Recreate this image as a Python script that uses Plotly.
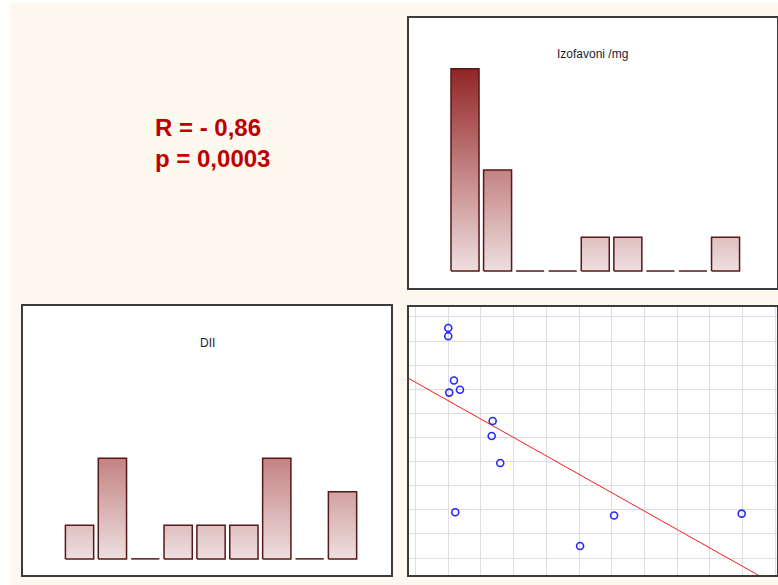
import numpy as np
import plotly.graph_objects as go

# histogram counts, 9 bins each
izo_counts = [6, 3, 0, 0, 1, 1, 0, 0, 1]
dii_counts = [1, 3, 0, 1, 1, 1, 3, 0, 2]

# scatter: izoflavones (mg) vs DII
izo_mg = [0, 0, 0.87, 0.15, 1.79, 6.79, 6.64, 7.95, 1.07, 25.35, 20.15, 44.85]
dii = [2.27, 2.1, 1.18, 0.93, 0.99, 0.34, 0.03, -0.53, -1.55, -1.62, -2.25, -1.58]

r_text = "R = - 0,86"
p_text = "p = 0,0003"
izo_title = "Izofavoni /mg"
dii_title = "DII"

W, H = 778, 585


def fx(x):
    return x / W


def fy(y):
    return 1 - y / H


fig = go.Figure()

bar_scale = [[0, "#eedfdf"], [0.5, "#c38282"], [1, "#922525"]]
half = 0.43


def add_hist(counts, xa, ya):
    bx, by, zx, zy = [], [], [], []
    for i, c in enumerate(counts):
        if c > 0:
            bx += [i - half, i - half, i + half, i + half, i - half, None]
            by += [0, c, c, 0, 0, None]
        else:
            zx += [i - half, i + half, None]
            zy += [0, 0, None]
    fig.add_trace(go.Scatter(
        x=bx, y=by, xaxis=xa, yaxis=ya, mode="lines", fill="toself",
        fillgradient=dict(type="vertical", colorscale=bar_scale, start=0, stop=6),
        line=dict(color="#561818", width=1.5), hoverinfo="skip"))
    fig.add_trace(go.Scatter(
        x=zx, y=zy, xaxis=xa, yaxis=ya, mode="lines",
        line=dict(color="#561818", width=1.5), hoverinfo="skip"))


add_hist(izo_counts, "x2", "y2")
add_hist(dii_counts, "x3", "y3")

# scatter + linear fit
x_range = [-6, 50.25]
m, c = np.polyfit(izo_mg, dii, 1)
fit_x = np.array(x_range)
fig.add_trace(go.Scatter(
    x=fit_x, y=m * fit_x + c, mode="lines",
    line=dict(color="#ff1a1a", width=1), hoverinfo="skip"))
fig.add_trace(go.Scatter(
    x=izo_mg, y=dii, mode="markers",
    marker=dict(symbol="circle-open", size=7, color="#2626ff", line=dict(width=1.6))))

box = dict(showline=True, mirror=True, linecolor="#3c3c3c", linewidth=1.5,
           showticklabels=False, ticks="", zeroline=False)

fig.update_layout(
    width=W, height=H, margin=dict(l=0, r=0, t=0, b=0),
    paper_bgcolor="#fef9ee", plot_bgcolor="white", showlegend=False,
    xaxis=dict(domain=[fx(409), fx(777)], range=x_range, showgrid=True,
               gridcolor="#dedede", gridwidth=1.4, tick0=0, dtick=5, anchor="y", **box),
    yaxis=dict(domain=[fy(575), fy(307)], range=[-2.8525, 2.705], showgrid=True,
               gridcolor="#dedede", gridwidth=1.4, tick0=0, dtick=0.5, anchor="x", **box),
    xaxis2=dict(domain=[fx(409), fx(777)], range=[-1.72, 9.58], showgrid=False,
                anchor="y2", **box),
    yaxis2=dict(domain=[fy(288), fy(18)], range=[-0.504, 7.51], showgrid=False,
                anchor="x2", **box),
    xaxis3=dict(domain=[fx(23), fx(391)], range=[-1.72, 9.475], showgrid=False,
                anchor="y3", **box),
    yaxis3=dict(domain=[fy(575), fy(306)], range=[-0.48, 7.53], showgrid=False,
                anchor="x3", **box),
    shapes=[
        dict(type="rect", xref="paper", yref="paper", x0=0, x1=fx(10), y0=0, y1=1,
             fillcolor="white", line_width=0, layer="below"),
        dict(type="rect", xref="paper", yref="paper", x0=0, x1=1, y0=fy(3), y1=1,
             fillcolor="white", line_width=0, layer="below"),
    ],
    annotations=[
        dict(text=r_text, x=fx(153), y=fy(127), xref="paper", yref="paper",
             xanchor="left", yanchor="middle", showarrow=False,
             font=dict(family="Liberation Sans", size=24, color="#c00000", weight="bold")),
        dict(text=p_text, x=fx(153), y=fy(159), xref="paper", yref="paper",
             xanchor="left", yanchor="middle", showarrow=False,
             font=dict(family="Liberation Sans", size=24, color="#c00000", weight="bold")),
        dict(text=izo_title, x=fx(592), y=fy(54), xref="paper", yref="paper",
             xanchor="center", yanchor="middle", showarrow=False,
             font=dict(family="Liberation Sans", size=12, color="#1c1c30")),
        dict(text=dii_title, x=fx(207), y=fy(343), xref="paper", yref="paper",
             xanchor="center", yanchor="middle", showarrow=False,
             font=dict(family="Liberation Sans", size=12, color="#1c1c30")),
    ],
)

# drop the default page margin so the figure fills the window
fig.write_html("out.html", config={"displayModeBar": False},
               post_script="document.body.style.margin='0';")
